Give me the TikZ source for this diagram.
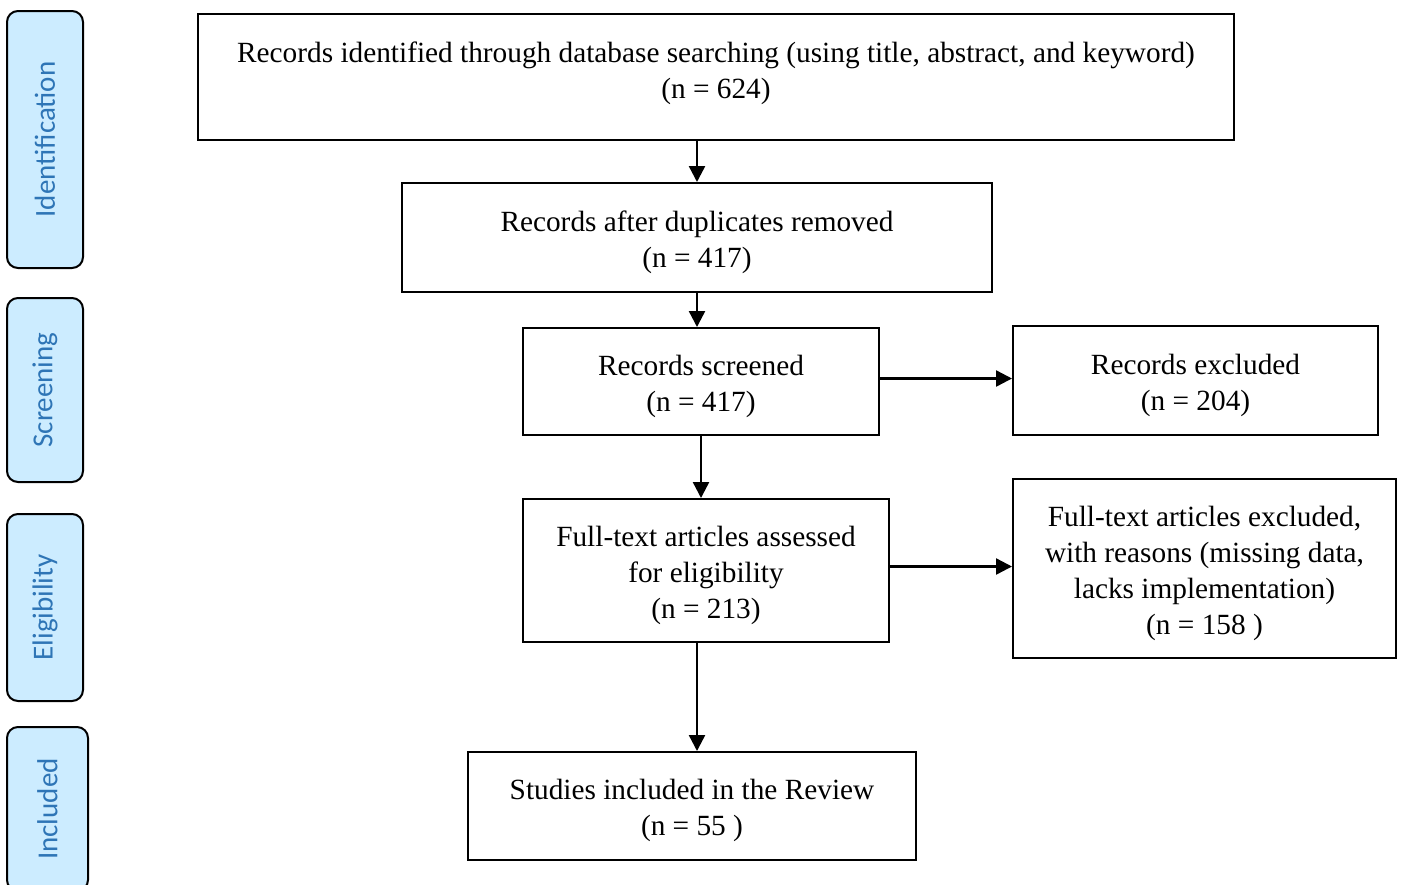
\documentclass[tikz,border=0pt]{standalone}
\usepackage{fontspec}
\setmainfont{Liberation Serif}
\newfontfamily\sidefont{Carlito}
\usetikzlibrary{arrows.meta,calc}
\definecolor{sidefill}{HTML}{CCECFF}
\definecolor{sidetext}{HTML}{2E75B6}
\newcommand\toppad{\rule{0pt}{30pt}}
\begin{document}
\begin{tikzpicture}[x=1pt,y=-1pt,
  box/.style={draw=black,line width=2pt,inner sep=0pt,align=center,
    font=\fontsize{29.3}{36}\selectfont},
  side/.style={draw=black,line width=2pt,fill=sidefill,rounded corners=11pt,
    inner sep=0pt},
  sidelabel/.style={rotate=90,text=sidetext,font=\sidefont\fontsize{29}{34}\selectfont},
  arr/.style={line width=2.4pt,-{Triangle[length=16pt,width=16pt]}}]
\useasboundingbox (0,0) rectangle (1404,884);
% side labels
\node[side,minimum width=76pt,minimum height=257pt] (sid) at (45,139.5) {};
\node[sidelabel] at (sid.center) {Identification};
\node[side,minimum width=76pt,minimum height=184pt] (ssc) at (45,390) {};
\node[sidelabel] at (ssc.center) {Screening};
\node[side,minimum width=76pt,minimum height=187pt] (sel) at (45,607.5) {};
\node[sidelabel] at (sel.center) {Eligibility};
\node[side,minimum width=81pt,minimum height=164pt] (sin) at (47.5,809) {};
\node[sidelabel] at (sin.center) {Included};
% main boxes
\node[box,minimum width=1036pt,minimum height=126pt] (b1) at (716,77)
  {Records identified through database searching (using title, abstract, and keyword)\\(n = 624)\rule[-14pt]{0pt}{0pt}};
\node[box,minimum width=590pt,minimum height=109pt] (b2) at (697,237.5)
  {\toppad Records after duplicates removed\\(n = 417)};
\node[box,minimum width=356pt,minimum height=107pt] (b3) at (701,381.5)
  {\toppad Records screened\\(n = 417)};
\node[box,minimum width=365pt,minimum height=109pt] (ex) at (1195.5,380.5)
  {\toppad Records excluded\\(n = 204)};
\node[box,minimum width=366pt,minimum height=143pt] (b4) at (706,570.5)
  {\toppad Full-text articles assessed\\for eligibility\\(n = 213)};
\node[box,minimum width=383pt,minimum height=179pt] (ex2) at (1204.5,568.5)
  {\toppad Full-text articles excluded,\\with reasons (missing data,\\lacks implementation)\\(n = 158 )};
\node[box,minimum width=448pt,minimum height=108pt] (inc) at (692,806)
  {\toppad Studies included in the Review\\(n = 55 )};
% connectors
\draw[arr] (b1.south -| b2.north) -- (b2.north);
\draw[arr] (b2.south) -- (b2.south |- b3.north);
\draw[arr] (b3.south) -- (b3.south |- b4.north);
\draw[arr] (b2.south |- b4.south) -- (b2.south |- inc.north);
\draw[arr] ($(b3.east)+(0,-3)$) -- ($(b3.east -| ex.west)+(0,-3)$);
\draw[arr] ($(b4.east)+(0,-4)$) -- ($(b4.east -| ex2.west)+(0,-4)$);
\end{tikzpicture}
\end{document}
